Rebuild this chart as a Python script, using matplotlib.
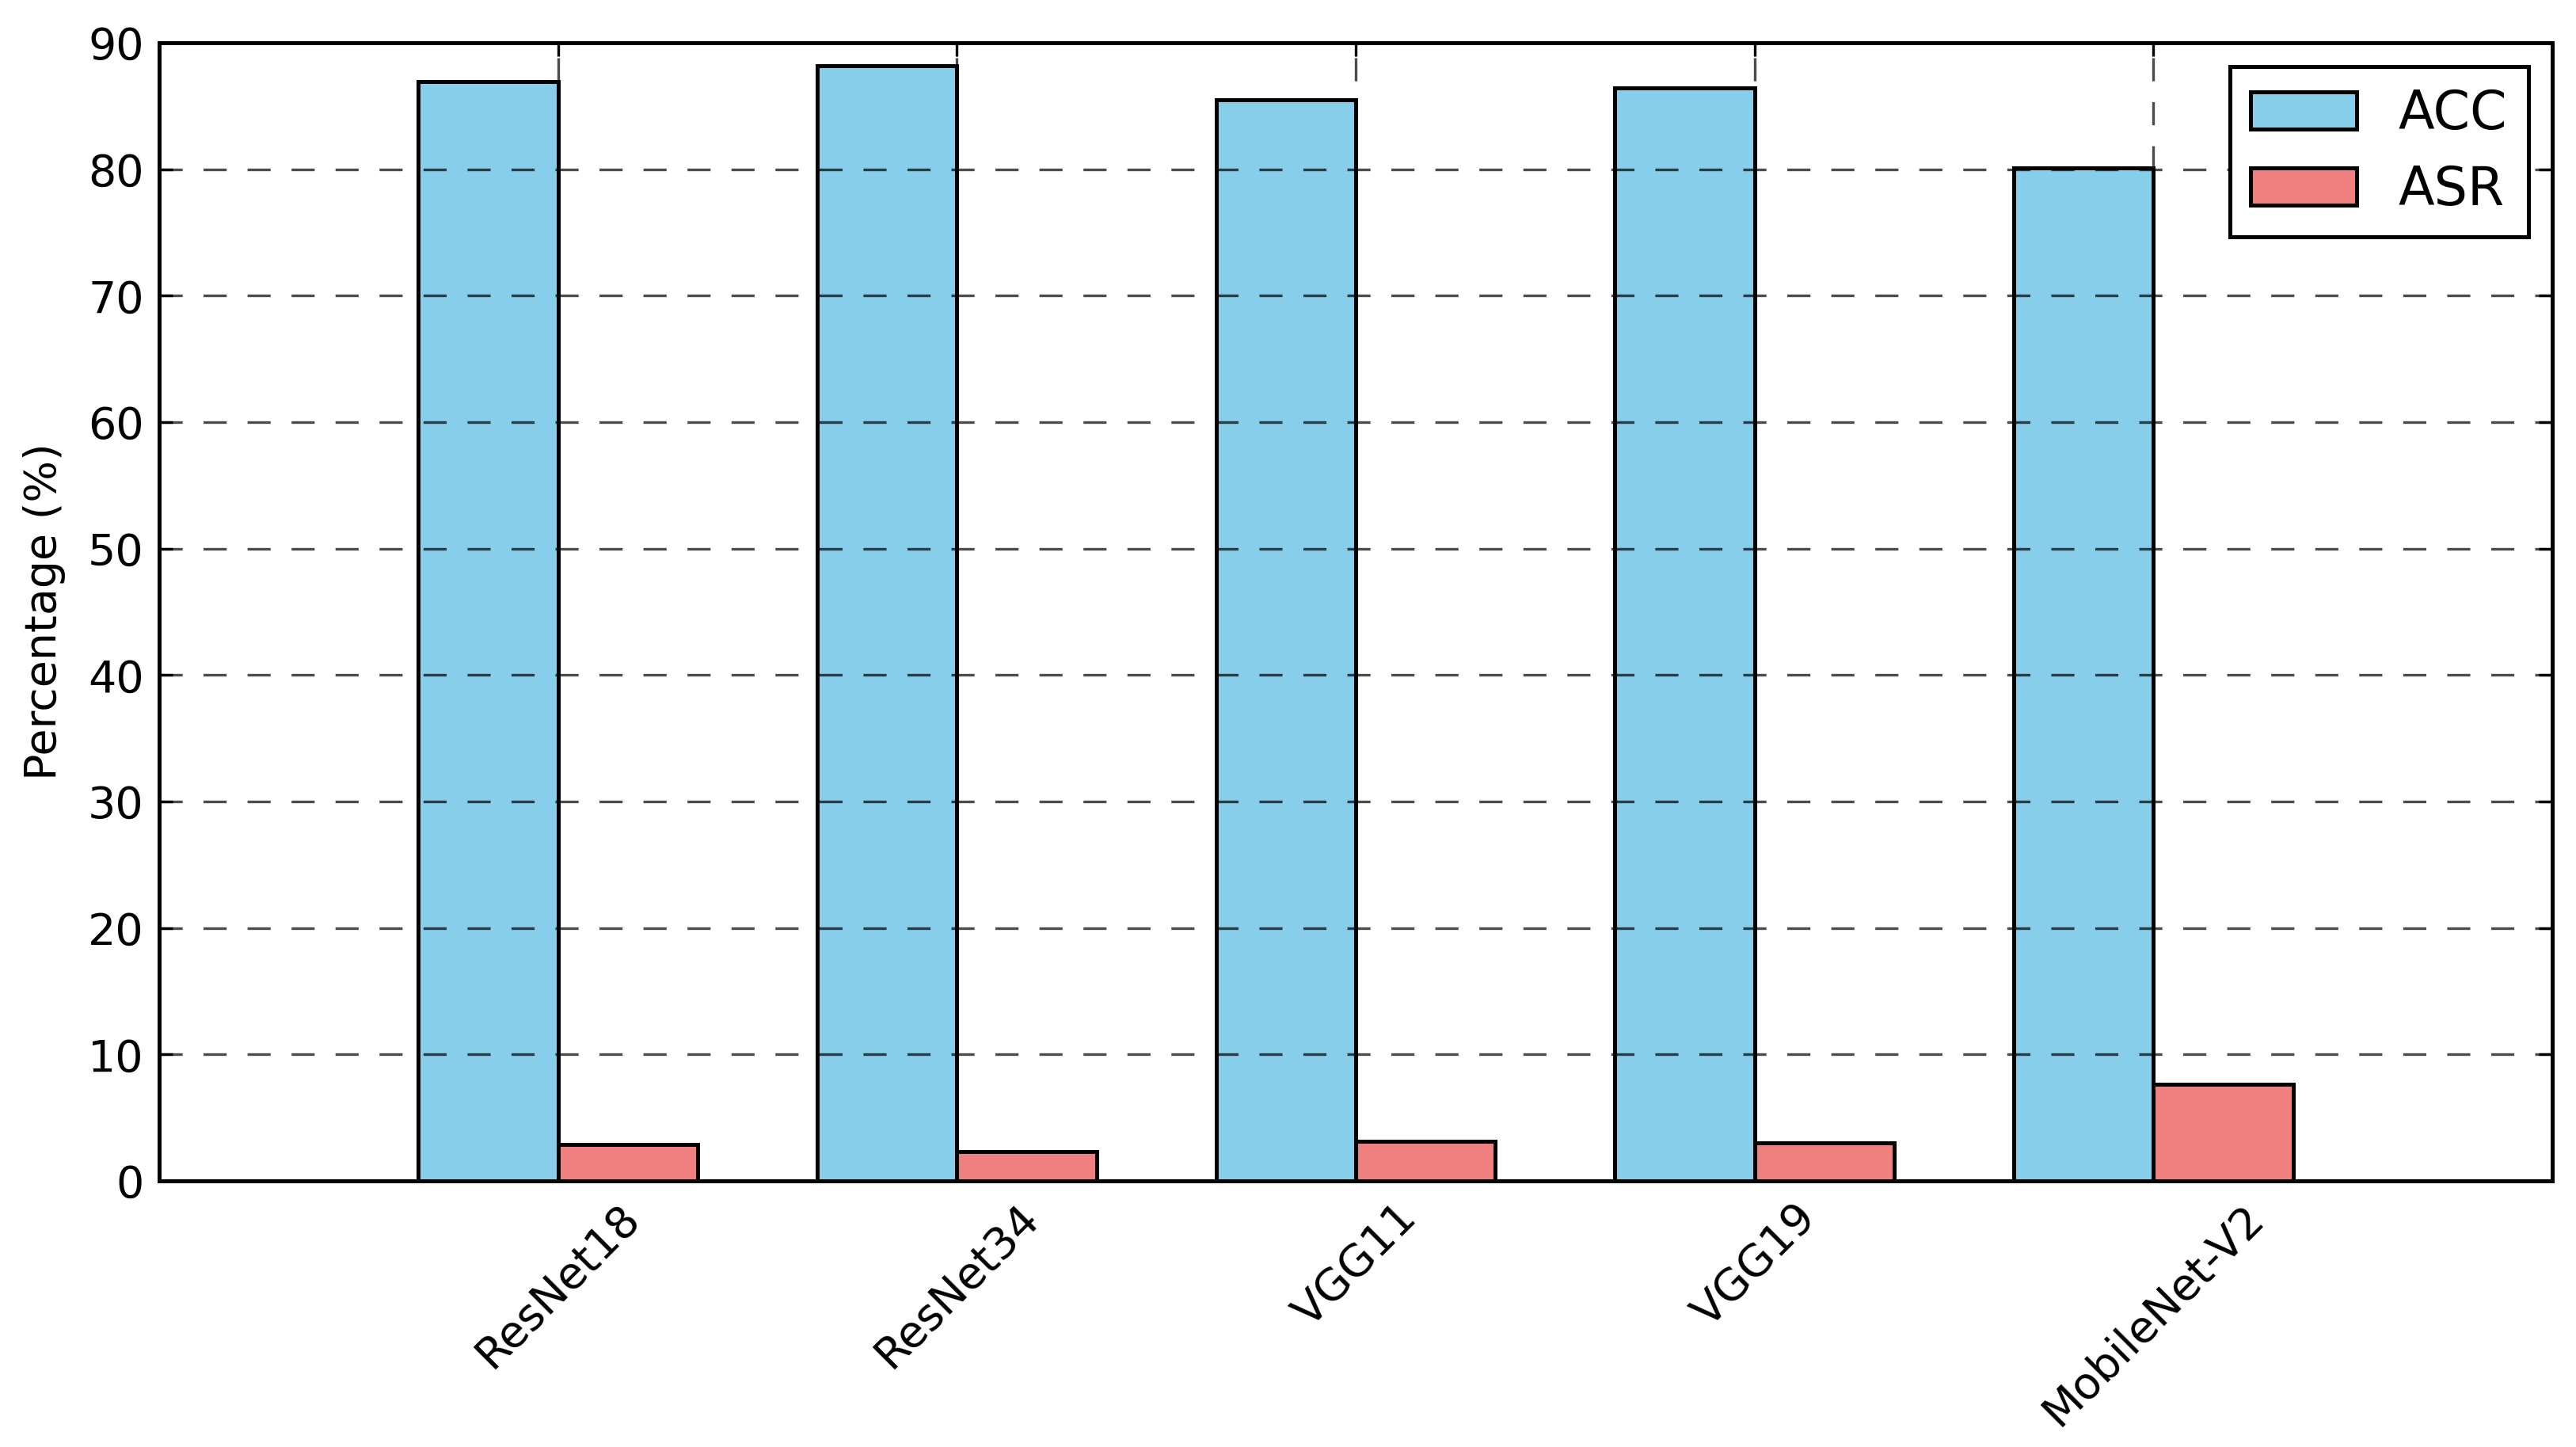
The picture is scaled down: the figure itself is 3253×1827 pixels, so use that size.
import matplotlib
matplotlib.use("Agg")
import matplotlib.pyplot as plt
import numpy as np

models = ["ResNet18", "ResNet34", "VGG11", "VGG19", "MobileNet-V2"]
acc = [86.9, 88.2, 85.5, 86.4, 80.1]
asr = [2.9, 2.3, 3.15, 3.0, 7.65]
series_labels = ["ACC", "ASR"]
yticks = [0, 10, 20, 30, 40, 50, 60, 70, 80, 90]

plt.rcParams['font.family'] = ['DejaVu Sans']
plt.rcParams['lines.scale_dashes'] = False

W, H, DPI = 3253, 1827, 200
fig = plt.figure(figsize=(W / DPI, H / DPI), dpi=DPI)
ax = fig.add_axes([201 / W, 1 - 1491 / H, (3223 - 201) / W, (1491 - 54) / H])

x = np.arange(len(models))
w = 0.35
ax.bar(x - w / 2, acc, w, color="#87CEEB", edgecolor="black", linewidth=1.8,
       label=series_labels[0], zorder=1)
ax.bar(x + w / 2, asr, w, color="#F08080", edgecolor="black", linewidth=1.8,
       label=series_labels[1], zorder=1)

ax.set_xlim(-1, 5)
ax.set_ylim(0, 90)
ax.set_yticks(yticks)
ax.set_xticks(x)
ax.set_xticklabels(models, rotation=45, ha="center", fontsize=20)
ax.tick_params(axis="both", direction="in", length=6, width=1.2, labelsize=20,
               top=True, right=True, pad=7)
for s in ax.spines.values():
    s.set_linewidth(1.8)

ax.set_axisbelow(False)
ax.grid(True, color="black", alpha=0.7, linewidth=1.2, linestyle=(0, (10.5, 9.5)))

ax.set_ylabel("Percentage (%)", fontsize=20, labelpad=10)

leg = ax.legend(loc="upper right", fontsize=24, fancybox=False, framealpha=1,
                edgecolor="black", borderpad=0.4, labelspacing=0.45,
                handlelength=2.0, handleheight=0.7, handletextpad=0.8,
                borderaxespad=0.45)
leg.get_frame().set_linewidth(1.8)

fig.savefig("out.png", dpi=DPI)
